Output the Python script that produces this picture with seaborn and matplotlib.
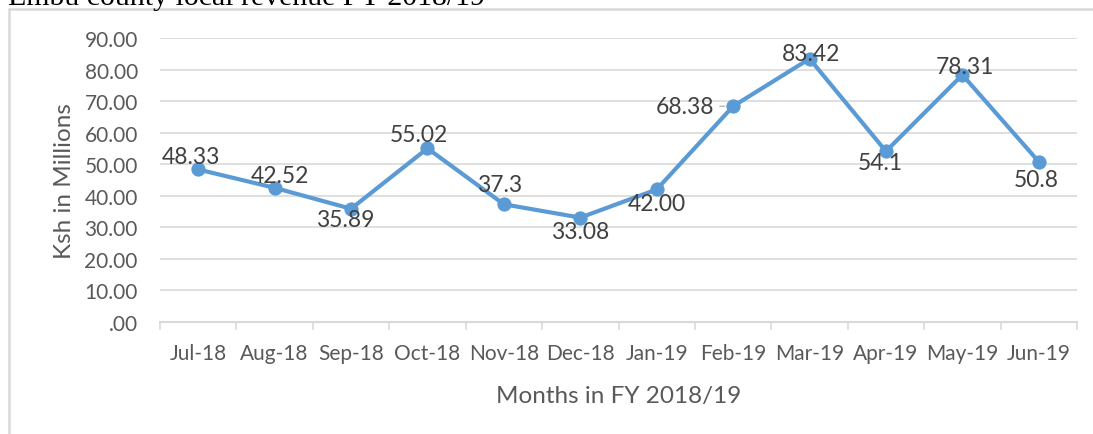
import matplotlib
matplotlib.use("Agg")
import matplotlib.pyplot as plt
from matplotlib.ticker import FuncFormatter, FixedLocator
from matplotlib.lines import Line2D
import seaborn as sns
import pandas as pd

months = ["Jul-18", "Aug-18", "Sep-18", "Oct-18", "Nov-18", "Dec-18",
          "Jan-19", "Feb-19", "Mar-19", "Apr-19", "May-19", "Jun-19"]
revenue = [48.33, 42.52, 35.89, 55.02, 37.3, 33.08,
           42.00, 68.38, 83.42, 54.1, 78.31, 50.8]
labels = ["48.33", "42.52", "35.89", "55.02", "37.3", "33.08",
          "42.00", "68.38", "83.42", "54.1", "78.31", "50.8"]
yticks = [0, 10, 20, 30, 40, 50, 60, 70, 80, 90]

# label offsets in points (dx, dy); positive dy = up
offsets = [(-5, 9), (4, 9), (-4, -8), (-6, 10), (-3, 14), (0, -10),
           (0, -10), (-35, 0), (1, 4), (-4, -8), (2, 6), (-2, -13)]

sns.set_theme(style="white")
plt.rcParams['font.family'] = ['Lato', 'DejaVu Sans']

df = pd.DataFrame({"month": months, "revenue": revenue})
df["x"] = range(len(months))

fig = plt.figure(figsize=(10.93, 4.35), dpi=100)
W, H = 1093, 435
ax = fig.add_axes([160 / W, 1 - 323 / H, (1077 - 160) / W, (323 - 39) / H])

# outer frame (top and left edges only)
fig.add_artist(Line2D([9 / W, 1.0], [1 - 10 / H, 1 - 10 / H],
                      transform=fig.transFigure, color="#d9d9d9", lw=1.8))
fig.add_artist(Line2D([9 / W, 9 / W], [0, 1 - 10 / H],
                      transform=fig.transFigure, color="#d9d9d9", lw=1.8))
fig.text(8 / W, 1 - 5 / H, "Embu county local revenue FY 2018/19",
         family="Liberation Serif", fontsize=21.5, color="black",
         ha="left", va="baseline")

sns.lineplot(data=df, x="x", y="revenue", ax=ax, color="#5b9bd5",
             linewidth=3.0, marker="o", markersize=9.5,
             markeredgecolor="#5b9bd5", zorder=3)

ax.set_xlim(-0.5, len(months) - 0.5)
ax.set_ylim(0, 90)
ax.set_yticks(yticks)
ax.yaxis.set_major_formatter(FuncFormatter(
    lambda v, p: (f"{v:.2f}"[1:] if v == 0 else f"{v:.2f}")))
ax.set_xticks(range(len(months)))
ax.set_xticklabels(months)
ax.xaxis.set_minor_locator(FixedLocator([i - 0.5 for i in range(len(months) + 1)]))
ax.tick_params(axis="x", which="major", length=0, pad=15, labelsize=15,
               labelcolor="#595959")
ax.tick_params(axis="x", which="minor", length=6, width=1.2, color="#d9d9d9",
               direction="out", bottom=True)
ax.tick_params(axis="y", length=0, pad=16, labelsize=15, labelcolor="#595959")

ax.grid(axis="y", color="#d9d9d9", linewidth=1.2)
ax.set_axisbelow(True)
for s in ["left", "right", "top"]:
    ax.spines[s].set_visible(False)
ax.spines["bottom"].set_color("#d9d9d9")
ax.spines["bottom"].set_linewidth(1.5)
ax.spines["bottom"].set_zorder(1)

ax.set_xlabel("Months in FY 2018/19", fontsize=17.5, color="#595959", labelpad=16)
ax.set_ylabel("Ksh in Millions", fontsize=17.5, color="#595959", labelpad=7)

for i, (v, lab, off) in enumerate(zip(revenue, labels, offsets)):
    kw = {}
    if i == 7:
        kw["arrowprops"] = dict(arrowstyle="-", color="#a6a6a6", lw=0.8,
                                shrinkA=2, shrinkB=6)
    ax.annotate(lab, (i, v), xytext=off, textcoords="offset points",
                ha="center", va="center", fontsize=16.5, color="#404040",
                zorder=5, **kw)

fig.savefig("out.png", dpi=100)
